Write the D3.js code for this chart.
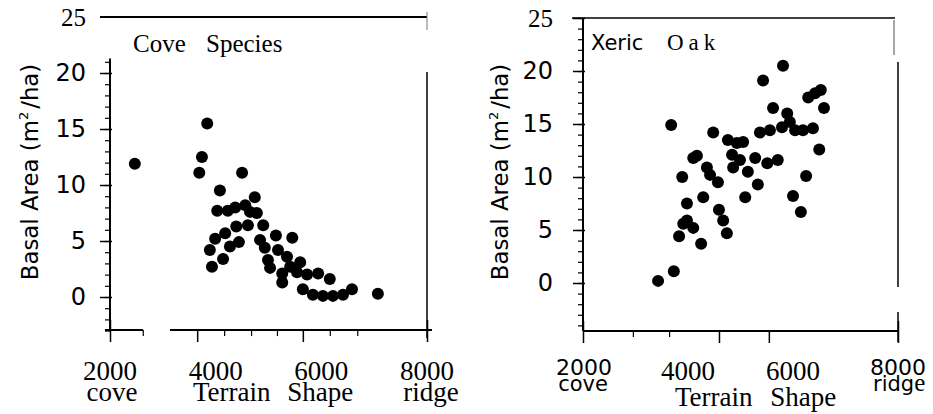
<!DOCTYPE html>
<html>
<head>
<meta charset="utf-8">
<script src="https://cdn.jsdelivr.net/npm/d3@7"></script>
<style>
body { margin: 0; background: #fff; }
svg { display: block; }
</style>
</head>
<body>
<script>
// left panel: cove species, basal area against terrain shape index
var coveShape = [2470, 3840, 3740, 3690, 4500, 4080, 4740, 4030, 4230, 4370, 4560, 4650,
    4780, 4610, 4900, 4390, 4180, 3990, 3890, 3930, 4140, 4270, 4440, 4840, 4930, 5140,
    5450, 4990, 5180, 5030, 5260, 5260, 5410, 5600, 5540, 5730, 5940, 6160, 5650, 5840,
    6030, 6220, 6410, 6580, 7070, 5350];
var coveBasal = [11.9, 15.5, 12.5, 11.1, 11.1, 9.5, 8.9, 7.7, 7.7, 8.0, 8.2, 7.6,
    7.5, 6.4, 6.4, 6.3, 5.7, 5.2, 4.2, 2.7, 3.4, 4.5, 4.9, 5.1, 4.4, 5.5,
    5.3, 3.3, 4.2, 2.6, 2.1, 1.3, 2.7, 3.1, 2.2, 2.0, 2.1, 1.6, 0.7, 0.2,
    0.1, 0.1, 0.2, 0.7, 0.3, 3.6];

// right panel: xeric oak
var oakShape = [3430, 3730, 3830, 3910, 3980, 4100, 4250, 3980, 4290, 4590, 4670, 4740,
    6150, 6000, 6250, 6500, 6590, 6530, 6420, 6290, 6380, 6190, 6040, 5940, 5890, 5790,
    5620, 5560, 5370, 5430, 5810, 3680, 4480, 4760, 4930, 5050, 4170, 4840, 4990, 5280,
    5510, 5710, 4360, 4860, 5140, 3890, 4420, 4570, 5330, 5090, 4100];
var oakBasal = [0.2, 1.1, 4.4, 5.6, 5.9, 5.2, 3.7, 7.5, 8.1, 6.9, 5.9, 4.7,
    6.7, 8.2, 10.1, 12.6, 16.5, 18.2, 17.9, 17.5, 14.6, 14.4, 14.4, 15.2, 16.0, 14.7,
    16.5, 14.4, 14.2, 19.1, 20.5, 14.9, 14.2, 13.5, 13.2, 13.3, 12.0, 12.1, 11.6, 11.8,
    11.3, 11.6, 10.9, 10.9, 10.5, 10.0, 10.2, 9.5, 9.3, 8.1, 11.8];

var yTicks = [0, 5, 10, 15, 20, 25];
var xLabels = [2000, 4000, 6000, 8000];
var coveXMajor = [2000, 3650, 5650, 8000];
var coveXMinor = [2620, 4160, 4670, 5160, 6160, 6680];
var oakXMajor = [2000, 4590, 5540, 8000];
var oakXMinor = [2950, 3640];

var sans = '"DejaVu Sans", sans-serif';
var serif = '"Liberation Serif", "Times New Roman", serif';

var svg = d3.select('body').append('svg')
    .attr('width', 933)
    .attr('height', 414)
    .style('background', '#fff');

// shrink or grow a text's font so that it spans the wanted length
function fit(t, size, len) {
    var l = t.node().getComputedTextLength();
    if (l > 0) t.attr('font-size', size * len / l);
}

function yTitle(x) {
    var t = svg.append('text')
        .attr('transform', `translate(${x}, 172) rotate(-90)`)
        .attr('text-anchor', 'middle')
        .attr('font-family', sans)
        .attr('font-size', 22);
    t.append('tspan').text('Basal Area (m');
    t.append('tspan').attr('font-size', 13).attr('dy', -10).text('2');
    t.append('tspan').attr('dy', 10).attr('dx', 3).text('/ha)');
    fit(t, 22, 214);
}

function dots(x, y, xs, ys) {
    svg.append('g').selectAll('circle')
        .data(xs)
        .join('circle')
        .attr('cx', d => x(d))
        .attr('cy', (d, i) => y(ys[i]))
        .attr('r', 6)
        .attr('fill', '#000');
}

function yAxes(x0, y, pad, minor, yTop, yBottom, tickTop) {
    svg.append('line')
        .attr('x1', x0).attr('x2', x0)
        .attr('y1', y(yTop)).attr('y2', y(yBottom))
        .attr('stroke', '#000').attr('stroke-width', 2);

    var major = d3.axisLeft(y).tickValues(yTicks).tickSize(10).tickPadding(pad);
    var g = svg.append('g').attr('transform', `translate(${x0}, 0)`).call(major);
    g.select('.domain').remove();
    g.selectAll('.tick line')
        .attr('stroke', '#000')
        .attr('stroke-width', 1.5)
        .attr('x1', 2)
        .attr('display', d => (d === 25 && !tickTop) ? 'none' : null);
    g.selectAll('.tick text')
        .attr('font-family', d => d === 25 ? serif : sans)
        .attr('font-size', d => d === 25 ? 25 : 24)
        .attr('fill', '#000');

    var gm = svg.append('g').attr('transform', `translate(${x0}, 0)`)
        .call(d3.axisLeft(y).tickValues(minor).tickSize(5).tickFormat(''));
    gm.select('.domain').remove();
    gm.selectAll('.tick line').attr('stroke', '#000').attr('stroke-width', 1.2).attr('x1', 1);
}

function xAxes(y0, x, majorVals, minorVals) {
    var g = svg.append('g').attr('transform', `translate(0, ${y0})`)
        .call(d3.axisBottom(x).tickValues(majorVals).tickSize(12).tickFormat(''));
    g.select('.domain').remove();
    g.selectAll('.tick line').attr('stroke', '#000').attr('stroke-width', 1.5)
        .attr('y1', d => (d === 2000 || d === 8000) ? -10 : 0);
    var gm = svg.append('g').attr('transform', `translate(0, ${y0})`)
        .call(d3.axisBottom(x).tickValues(minorVals).tickSize(6).tickFormat(''));
    gm.select('.domain').remove();
    gm.selectAll('.tick line').attr('stroke', '#000').attr('stroke-width', 1.2);
}

function line(x1, y1, x2, y2, w, c) {
    svg.append('line')
        .attr('x1', x1).attr('y1', y1).attr('x2', x2).attr('y2', y2)
        .attr('stroke', c || '#000').attr('stroke-width', w);
}

// ---- left panel ----
var xL = d3.scaleLinear().domain([2000, 8000]).range([110, 427]);
var yL = d3.scaleLinear().domain([0, 25]).range([297, 17]);

line(100, yL(25), xL(8000), yL(25), 2);
line(xL(8000), 12, xL(8000), 30, 1, '#777');
line(xL(8000), 72, xL(8000), 338, 1.5);
yAxes(xL(2000), yL, 14, d3.range(-3, 22), 21.3, -2.95, false);
xAxes(yL(-2.95), xL, coveXMajor, coveXMinor);
line(xL(1905), yL(-2.95), xL(2625), yL(-2.95), 2);
line(xL(3135), yL(-2.95), xL(8095), yL(-2.95), 2);

svg.append('text')
    .attr('x', 133).attr('y', 52)
    .attr('font-family', serif).attr('font-size', 25)
    .attr('word-spacing', 14)
    .text('Cove Species');

yTitle(38);
dots(xL, yL, coveShape, coveBasal);

svg.append('g').selectAll('text')
    .data(xLabels)
    .join('text')
    .attr('x', d => xL(d))
    .attr('y', 380)
    .attr('text-anchor', 'middle')
    .attr('font-family', serif)
    .attr('font-size', 27)
    .text(d => d);
svg.append('text').attr('x', xL(2000) + 2).attr('y', 401).attr('text-anchor', 'middle')
    .attr('font-family', serif).attr('font-size', 27).text('cove');
svg.append('text').attr('x', 193).attr('y', 401)
    .attr('font-family', serif).attr('font-size', 27).attr('word-spacing', 10)
    .text('Terrain Shape');
svg.append('text').attr('x', xL(8000) + 4).attr('y', 401).attr('text-anchor', 'middle')
    .attr('font-family', serif).attr('font-size', 27).text('ridge');

// ---- right panel ----
var xR = d3.scaleLinear().domain([2000, 8000]).range([583, 898]);
var yR = d3.scaleLinear().domain([0, 25]).range([283, 18]);

line(572, yR(25), 895, yR(25), 1.5);
line(894, 20, 894, 55, 1.5, '#888');
line(xR(8000), 62, xR(8000), 287, 1.5);
line(xR(8000), 312, xR(8000), 342, 1.5);
yAxes(xR(2000), yR, 20, d3.range(-4, 26), 25, -4.53, true);
xAxes(yR(-4.53), xR, oakXMajor, oakXMinor);
line(xR(2000), yR(-4.53), xR(8000), yR(-4.53), 2);

var title = svg.append('text').attr('x', 591).attr('y', 50);
title.append('tspan').attr('font-family', sans).attr('font-size', 21).text('Xeric ');
title.append('tspan').attr('x', 667).attr('font-family', serif).attr('font-size', 23)
    .attr('letter-spacing', 5).text('Oak');

yTitle(508);
dots(xR, yR, oakShape, oakBasal);

svg.append('g').selectAll('text')
    .data(xLabels)
    .join('text')
    .attr('x', d => xR(d) + (d === 2000 ? 1 : 0))
    .attr('y', d => (d === 2000 || d === 8000) ? 375 : 380)
    .attr('text-anchor', 'middle')
    .attr('font-family', d => (d === 2000 || d === 8000) ? sans : serif)
    .attr('font-size', d => (d === 2000 || d === 8000) ? 22 : 27)
    .text(d => d);
svg.append('text').attr('x', xR(2000)).attr('y', 391).attr('text-anchor', 'middle')
    .attr('font-family', sans).attr('font-size', 21).text('cove');
var ridge = svg.append('text').attr('x', 873).attr('y', 391);
ridge.append('tspan').attr('font-family', sans).attr('font-size', 21).text('ridg');
ridge.append('tspan').attr('font-family', serif).attr('font-size', 25).text('e');
svg.append('text').attr('x', 675).attr('y', 406)
    .attr('font-family', serif).attr('font-size', 27).attr('word-spacing', 11)
    .text('Terrain Shape');
</script>
</body>
</html>
